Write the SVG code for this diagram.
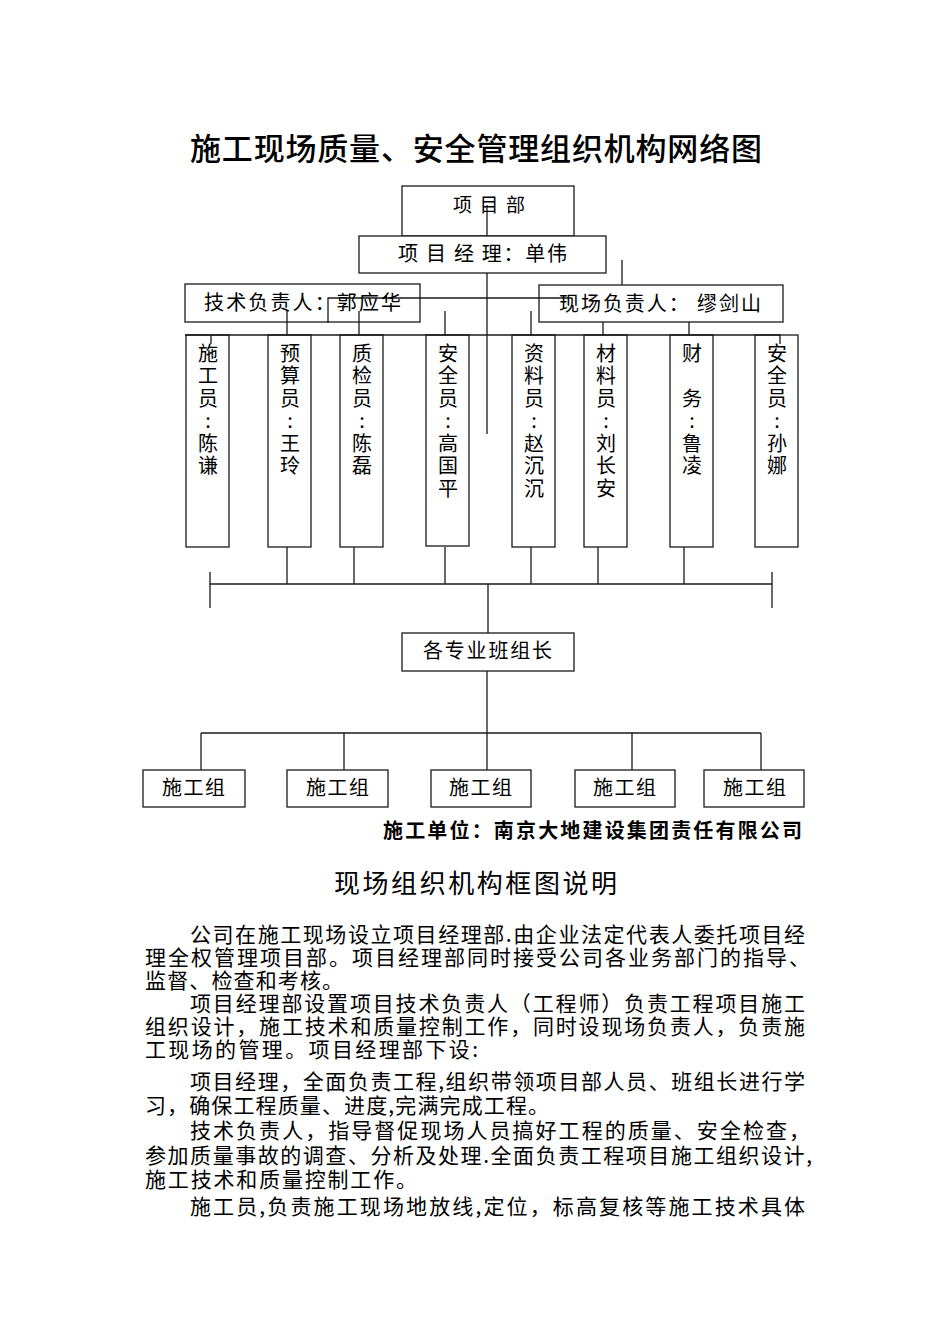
<svg xmlns="http://www.w3.org/2000/svg" width="950" height="1344" viewBox="0 0 950 1344">
<style>
text{font-family:"Noto Sans CJK SC","Noto Sans",sans-serif;fill:#000}
.box{fill:none;stroke:#1a1a1a;stroke-width:1.3}
.ln{stroke:#1a1a1a;stroke-width:1.3;fill:none}
.t{font-size:20px}
.v{font-size:20px;writing-mode:vertical-rl;text-orientation:upright;letter-spacing:2.5px}
.b{font-size:21px}
</style>
<rect width="950" height="1344" fill="#fff"/>
<text x="190" y="160" font-size="31" font-weight="500" textLength="572" lengthAdjust="spacing">施工现场质量、安全管理组织机构网络图</text>

<g id="connectors">
<path class="ln" d="M487,205V434"/>
<path class="ln" d="M328,323V298H572"/>
<path class="ln" d="M622,260V285"/>
<path class="ln" d="M287,311V335M359,311V335M445,311V335M531,311V335M603,322V335M689,322V335"/>
<path class="ln" d="M185,335H780M211,335V344M780,334V344"/>
<path class="ln" d="M287,547V584M354,547V584M445,547V584M531,547V584M598,547V584M684,547V584"/>
<path class="ln" d="M210,584H772M210,572V608M772,572V608"/>
<path class="ln" d="M488,584V633M487,671V770"/>
<path class="ln" d="M201,733H761M201,733V770M344,733V770M632,733V770M761,733V770"/>
</g>

<g id="xmb"><rect class="box" x="402" y="186" width="172" height="50"/>
<text x="453" y="212" font-size="19" textLength="72" lengthAdjust="spacing">项 目 部</text></g>
<g id="xmjl"><rect x="359" y="236" width="247" height="37" fill="#fff" stroke="#1a1a1a" stroke-width="1.3"/>
<text x="398" y="261" class="t" textLength="169" lengthAdjust="spacing">项 目 经 理：单伟</text></g>
<g id="jsfzr"><rect class="box" x="185" y="284" width="235" height="38"/>
<text x="204" y="310" class="t" textLength="197" lengthAdjust="spacing">技术负责人：郭应华</text></g>
<g id="xcfzr"><rect class="box" x="539" y="285" width="244" height="37"/>
<text x="559" y="311" class="t" textLength="202" lengthAdjust="spacing">现场负责人： 缪剑山</text></g>

<g id="sgy"><rect class="box" x="186" y="335" width="43" height="212"/>
<text class="v" x="208" y="343">施工员:陈谦</text></g>
<g id="ysy"><rect class="box" x="268" y="335" width="43" height="212"/>
<text class="v" x="290" y="343">预算员:王玲</text></g>
<g id="zjy"><rect class="box" x="340" y="335" width="43" height="212"/>
<text class="v" x="362" y="343">质检员:陈磊</text></g>
<g id="aqy1"><rect class="box" x="426" y="335" width="43" height="211"/>
<text class="v" x="448" y="343">安全员:高国平</text></g>
<g id="zly"><rect class="box" x="512" y="335" width="43" height="212"/>
<text class="v" x="534" y="343">资料员:赵沉沉</text></g>
<g id="cly"><rect class="box" x="584" y="335" width="43" height="212"/>
<text class="v" x="606" y="343">材料员:刘长安</text></g>
<g id="cw"><rect class="box" x="670" y="335" width="43" height="212"/>
<text class="v" x="692" y="343">财　务:鲁凌</text></g>
<g id="aqy2"><rect class="box" x="755" y="335" width="43" height="212"/>
<text class="v" x="777" y="343">安全员:孙娜</text></g>

<g id="bzz"><rect class="box" x="402" y="633" width="172" height="38"/>
<text x="423" y="658" class="t" textLength="129" lengthAdjust="spacing">各专业班组长</text></g>
<g id="sgz1"><rect class="box" x="143" y="770" width="102" height="37"/><text x="162" y="795" class="t" textLength="63" lengthAdjust="spacing">施工组</text></g>
<g id="sgz2"><rect class="box" x="287" y="770" width="101" height="37"/><text x="306" y="795" class="t" textLength="63" lengthAdjust="spacing">施工组</text></g>
<g id="sgz3"><rect class="box" x="431" y="770" width="100" height="37"/><text x="449" y="795" class="t" textLength="63" lengthAdjust="spacing">施工组</text></g>
<g id="sgz4"><rect class="box" x="575" y="770" width="100" height="37"/><text x="593" y="795" class="t" textLength="63" lengthAdjust="spacing">施工组</text></g>
<g id="sgz5"><rect class="box" x="704" y="770" width="100" height="37"/><text x="723" y="795" class="t" textLength="63" lengthAdjust="spacing">施工组</text></g>

<text x="383" y="838" font-size="20" font-weight="bold" textLength="419" lengthAdjust="spacing">施工单位：南京大地建设集团责任有限公司</text>

<text x="334" y="893" font-size="26" textLength="283" lengthAdjust="spacing">现场组织机构框图说明</text>

<g>
<text x="190" y="942" class="b" textLength="615" lengthAdjust="spacing">公司在施工现场设立项目经理部.由企业法定代表人委托项目经</text>
<text x="145" y="965" class="b" textLength="665" lengthAdjust="spacing">理全权管理项目部。项目经理部同时接受公司各业务部门的指导、</text>
<text x="145" y="988" class="b" textLength="198" lengthAdjust="spacing">监督、检查和考核。</text>
<text x="190" y="1011" class="b" textLength="615" lengthAdjust="spacing">项目经理部设置项目技术负责人（工程师）负责工程项目施工</text>
<text x="145" y="1034" class="b" textLength="660" lengthAdjust="spacing">组织设计，施工技术和质量控制工作，同时设现场负责人，负责施</text>
<text x="145" y="1057" class="b" textLength="333" lengthAdjust="spacing">工现场的管理。项目经理部下设:</text>
<text x="190" y="1089" class="b" textLength="615" lengthAdjust="spacing">项目经理，全面负责工程,组织带领项目部人员、班组长进行学</text>
<text x="145" y="1113" class="b" textLength="404" lengthAdjust="spacing">习，确保工程质量、进度,完满完成工程。</text>
<text x="190" y="1138" class="b" textLength="620" lengthAdjust="spacing">技术负责人，指导督促现场人员搞好工程的质量、安全检查，</text>
<text x="145" y="1163" class="b" textLength="667" lengthAdjust="spacing">参加质量事故的调查、分析及处理.全面负责工程项目施工组织设计,</text>
<text x="145" y="1187" class="b" textLength="272" lengthAdjust="spacing">施工技术和质量控制工作。</text>
<text x="190" y="1214" class="b" textLength="615" lengthAdjust="spacing">施工员,负责施工现场地放线,定位，标高复核等施工技术具体</text>
</g>
</svg>
